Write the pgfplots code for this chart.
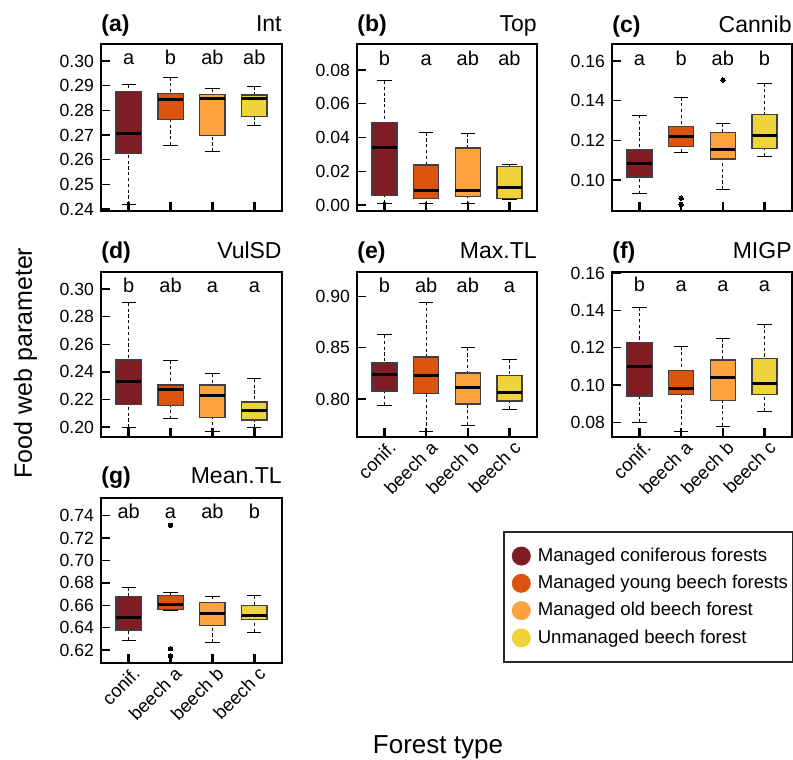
\documentclass[border=0pt]{standalone}
\usepackage{pgfplots}
\pgfplotsset{compat=1.18}
\usepgfplotslibrary{statistics}
\usepackage{fontspec}
\setmainfont{Liberation Sans}
\definecolor{cA}{HTML}{801D24}
\definecolor{cB}{HTML}{DA5410}
\definecolor{cC}{HTML}{FDA23F}
\definecolor{cD}{HTML}{EFD33A}
\newcommand{\ftick}{\fontsize{8.8}{10}\selectfont}
\newcommand{\fcat}{\fontsize{9.2}{10}\selectfont}
\newcommand{\ftitle}{\fontsize{11.5}{13}\selectfont}
\newcommand{\flet}{\fontsize{10}{12}\selectfont}
\pgfplotsset{
  panel/.style={scale only axis, anchor=north west, width=90pt, height=83.5pt,
    xmin=0.34, xmax=4.66, xtick={1,2,3,4}, xticklabels={},
    xtick pos=left, ytick pos=left, tick align=inside, major tick length=4.5pt,
    scaled y ticks=false,
    xtick style={line width=1.25pt, black},
    ytick style={line width=0.7pt, black},
    axis line style={line width=1pt, black},
    yticklabel style={font=\ftick, /pgf/number format/fixed, /pgf/number format/fixed zerofill, /pgf/number format/precision=2, /pgf/number format/assume math mode=true},
    xticklabel style={font=\fcat, rotate=45, anchor=east, xshift=3.6pt, yshift=-5.4pt},
    clip=false,
    boxplot/draw direction=y,
    boxplot/box extend=0.6, boxplot/whisker extend=0.34,
    boxplot/draw/lower whisker/.code={%
      \draw[black, line width=0.5pt, dash pattern=on 1.6pt off 1.3pt, fill=none]
        (boxplot whisker cs:\pgfplotsboxplotvalue{lower whisker},0.5) --
        (boxplot box cs:\pgfplotsboxplotvalue{lower quartile},0.5);
      \draw[black, line width=0.5pt, solid, fill=none]
        (boxplot whisker cs:\pgfplotsboxplotvalue{lower whisker},0) --
        (boxplot whisker cs:\pgfplotsboxplotvalue{lower whisker},1);
    },
    boxplot/draw/upper whisker/.code={%
      \draw[black, line width=0.5pt, dash pattern=on 1.6pt off 1.3pt, fill=none]
        (boxplot whisker cs:\pgfplotsboxplotvalue{upper whisker},0.5) --
        (boxplot box cs:\pgfplotsboxplotvalue{upper quartile},0.5);
      \draw[black, line width=0.5pt, solid, fill=none]
        (boxplot whisker cs:\pgfplotsboxplotvalue{upper whisker},0) --
        (boxplot whisker cs:\pgfplotsboxplotvalue{upper whisker},1);
    },
    boxplot/draw/median/.code={%
      \draw[black, line width=1.5pt, solid, fill=none]
        (boxplot box cs:\pgfplotsboxplotvalue{median},0) --
        (boxplot box cs:\pgfplotsboxplotvalue{median},1);
    },
  },
  bxs/.style={forget plot, draw=black!75, line width=0.6pt, solid, mark=*, mark size=1.1pt,
    mark options={draw=black, fill=black, solid, line width=0pt}},
}
% \bx{color}{pos}{lw}{lq}{med}{uq}{uw}
\newcommand{\bx}[7]{\addplot[bxs, fill=#1, boxplot prepared={draw position=#2, lower whisker=#3, lower quartile=#4, median=#5, upper quartile=#6, upper whisker=#7}] coordinates {};}
\newcommand{\ptitle}[3]{%
  \node[anchor=base west, yshift=#3, font=\ftitle\bfseries, inner sep=0pt] at (rel axis cs:0,1) {#1};
  \node[anchor=base east, yshift=#3, font=\ftitle, inner sep=0pt] at (rel axis cs:1,1) {#2};}
\newcommand{\lets}[5]{%
  \node[anchor=base, font=\flet] at (axis cs:1,#5) {#1};
  \node[anchor=base, font=\flet] at (axis cs:2,#5) {#2};
  \node[anchor=base, font=\flet] at (axis cs:3,#5) {#3};
  \node[anchor=base, font=\flet] at (axis cs:4,#5) {#4};}
\begin{document}
\begin{tikzpicture}
\useasboundingbox (0,0) rectangle (396.5pt,-380pt);
% (a) Int
\begin{axis}[panel, at={(50.5pt,-22pt)}, width=90.5pt, ymin=0.2392, ymax=0.3069,
  ytick={0.24,0.25,0.26,0.27,0.28,0.29,0.30}]
\bx{cA}{1}{0.2419}{0.2624}{0.2707}{0.2876}{0.2904}
\bx{cB}{2}{0.2659}{0.2762}{0.2846}{0.2868}{0.2934}
\bx{cC}{3}{0.2634}{0.2699}{0.2849}{0.2865}{0.2888}
\bx{cD}{4}{0.2739}{0.2774}{0.2848}{0.2862}{0.2896}
\lets{a}{b}{ab}{ab}{0.2984}
\ptitle{(a)}{Int}{6pt}
\end{axis}
% (b) Top
\begin{axis}[panel, at={(178.5pt,-22pt)}, ymin=-0.0036, ymax=0.0954,
  ytick={0,0.02,0.04,0.06,0.08}]
\bx{cA}{1}{0.0010}{0.0055}{0.0342}{0.0490}{0.0735}
\bx{cB}{2}{0.0006}{0.0036}{0.0087}{0.0237}{0.0429}
\bx{cC}{3}{0.0006}{0.0051}{0.0083}{0.0338}{0.0423}
\bx{cD}{4}{0.0030}{0.0036}{0.0105}{0.0229}{0.0241}
\lets{b}{a}{ab}{ab}{0.0827}
\ptitle{(b)}{Top}{6pt}
\end{axis}
% (c) Cannib
\begin{axis}[panel, at={(306pt,-22pt)}, ymin=0.0844, ymax=0.1686,
  ytick={0.10,0.12,0.14,0.16}]
\bx{cA}{1}{0.0931}{0.1015}{0.1086}{0.1155}{0.1328}
\addplot[bxs, fill=cB, boxplot prepared={draw position=2, lower whisker=0.1139, lower quartile=0.1168, median=0.1220, upper quartile=0.1271, upper whisker=0.1417}] coordinates {(2,0.0909) (2,0.0877)};
\addplot[bxs, fill=cC, boxplot prepared={draw position=3, lower whisker=0.0953, lower quartile=0.1106, median=0.1156, upper quartile=0.1240, upper whisker=0.1286}] coordinates {(3,0.1504)};
\bx{cD}{4}{0.1121}{0.1158}{0.1225}{0.1331}{0.1487}
\lets{a}{b}{ab}{b}{0.1578}
\ptitle{(c)}{Cannib}{6pt}
\end{axis}
% (d) VulSD
\begin{axis}[panel, at={(50.5pt,-136pt)}, width=90.5pt, height=82.5pt, ymin=0.1928, ymax=0.3123,
  ytick={0.20,0.22,0.24,0.26,0.28,0.30}]
\bx{cA}{1}{0.1998}{0.2164}{0.2333}{0.2486}{0.2900}
\bx{cB}{2}{0.2060}{0.2155}{0.2275}{0.2304}{0.2483}
\bx{cC}{3}{0.1971}{0.2070}{0.2229}{0.2304}{0.2386}
\bx{cD}{4}{0.1998}{0.2051}{0.2118}{0.2181}{0.2350}
\lets{b}{ab}{a}{a}{0.2976}
\ptitle{(d)}{VulSD}{7pt}
\end{axis}
% (e) Max.TL
\begin{axis}[panel, at={(178.5pt,-136pt)}, height=82.5pt, ymin=0.7629, ymax=0.924,
  ytick={0.80,0.85,0.90}, xticklabels={conif.,beech a,beech b,beech c}]
\bx{cA}{1}{0.7941}{0.8078}{0.8238}{0.8352}{0.8625}
\bx{cB}{2}{0.7684}{0.8055}{0.8228}{0.8410}{0.8945}
\bx{cC}{3}{0.7746}{0.7951}{0.8114}{0.8254}{0.8502}
\bx{cD}{4}{0.7902}{0.7980}{0.8068}{0.8228}{0.8384}
\lets{b}{ab}{ab}{a}{0.904}
\ptitle{(e)}{Max.TL}{7pt}
\end{axis}
% (f) MIGP
\begin{axis}[panel, at={(306pt,-136pt)}, height=82.5pt, ymin=0.0721, ymax=0.1607,
  ytick={0.08,0.10,0.12,0.14,0.16}, xticklabels={conif.,beech a,beech b,beech c}]
\bx{cA}{1}{0.0800}{0.0941}{0.1102}{0.1230}{0.1417}
\bx{cB}{2}{0.0753}{0.0949}{0.0981}{0.1079}{0.1208}
\bx{cC}{3}{0.0780}{0.0918}{0.1040}{0.1135}{0.1249}
\bx{cD}{4}{0.0857}{0.0949}{0.1006}{0.1142}{0.1326}
\lets{b}{a}{a}{a}{0.1500}
\ptitle{(f)}{MIGP}{7pt}
\end{axis}
% (g) Mean.TL
\begin{axis}[panel, at={(50.5pt,-248.85pt)}, width=90.5pt, height=82.65pt, ymin=0.6084, ymax=0.7561,
  ytick={0.62,0.64,0.66,0.68,0.70,0.72,0.74}, xticklabels={conif.,beech a,beech b,beech c},
  legend image code/.code={\path (0pt,0pt); \fill[#1] (6.25pt,0pt) circle (4.75pt);},
  legend style={at={(2.221,0.7985)}, anchor=north west, draw=black!85, line width=0.8pt,
    font=\fontsize{9.3}{11}\selectfont, inner xsep=2.5pt, inner ysep=6pt, row sep=1.4pt,
    column sep=3.5pt, nodes={inner xsep=0pt}, cells={anchor=west}}]
\addlegendimage{fill=cA, draw=none}
\addlegendentry{Managed coniferous forests}
\addlegendimage{fill=cB, draw=none}
\addlegendentry{Managed young beech forests}
\addlegendimage{fill=cC, draw=none}
\addlegendentry{Managed old beech forest}
\addlegendimage{fill=cD, draw=none}
\addlegendentry{Unmanaged beech forest}
\bx{cA}{1}{0.6289}{0.6379}{0.6495}{0.6679}{0.6757}
\addplot[bxs, fill=cB, boxplot prepared={draw position=2, lower whisker=0.6554, lower quartile=0.6560, median=0.6608, upper quartile=0.6688, upper whisker=0.6718}] coordinates {(2,0.7314) (2,0.6212) (2,0.6146)};
\bx{cC}{3}{0.6268}{0.6420}{0.6527}{0.6623}{0.6682}
\bx{cD}{4}{0.6361}{0.6474}{0.6507}{0.6596}{0.6685}
\lets{ab}{a}{ab}{b}{0.7371}
\ptitle{(g)}{Mean.TL}{7pt}
\end{axis}
\node[rotate=90, anchor=base, font=\fontsize{12.5}{14}\selectfont] at (16pt,-181.5pt) {Food web parameter};
\node[anchor=base, font=\fontsize{13}{15}\selectfont] at (219pt,-376.5pt) {Forest type};
\end{tikzpicture}
\end{document}
